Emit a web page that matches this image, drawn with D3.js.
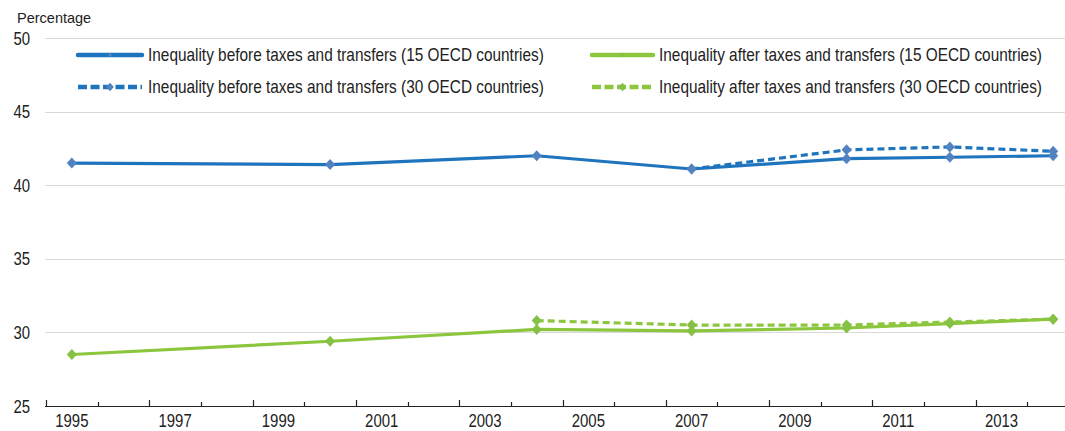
<!DOCTYPE html>
<html>
<head>
<meta charset="utf-8">
<script src="https://cdn.jsdelivr.net/npm/d3@7"></script>
<style>
  body { margin: 0; background: #fff; }
  svg text { font-family: "Liberation Sans", Arial, sans-serif; fill: #222; }
</style>
</head>
<body>
<svg id="graph" width="1065" height="431"></svg>
<script>
  var svg = d3.select("#graph");

  // categories on the x axis (one band per year)
  var years = d3.range(1995, 2015);
  var tickYears = [1995, 1997, 1999, 2001, 2003, 2005, 2007, 2009, 2011, 2013];
  var yTicks = [25, 30, 35, 40, 45, 50];

  // series values
  var beforeYears15 = [1995, 2000, 2004, 2007, 2010, 2012, 2014];
  var before15 = [41.5, 41.4, 42.0, 41.1, 41.8, 41.9, 42.0];
  var beforeYears30 = [2007, 2010, 2012, 2014];
  var before30 = [41.1, 42.4, 42.6, 42.3];
  var afterYears15 = [1995, 2000, 2004, 2007, 2010, 2012, 2014];
  var after15 = [28.5, 29.4, 30.2, 30.1, 30.3, 30.6, 30.9];
  var afterYears30 = [2004, 2007, 2010, 2012, 2014];
  var after30 = [30.8, 30.5, 30.5, 30.7, 30.9];

  var blue = "#1f74be", blueMark = "#5283c0";
  var green = "#8cc63f", greenMark = "#86c045";

  var series = [
    {name: "Inequality before taxes and transfers (15 OECD countries)", years: beforeYears15, values: before15, color: blue, mark: blueMark, dash: null},
    {name: "Inequality after taxes and transfers (15 OECD countries)", years: afterYears15, values: after15, color: green, mark: greenMark, dash: null},
    {name: "Inequality before taxes and transfers (30 OECD countries)", years: beforeYears30, values: before30, color: blue, mark: blueMark, dash: "7,4"},
    {name: "Inequality after taxes and transfers (30 OECD countries)", years: afterYears30, values: after30, color: green, mark: greenMark, dash: "7,4"}
  ];

  var plotLeft = 46, bandW = 51.65, plotTop = 38, plotBottom = 406;

  var x = d3.scaleBand().domain(years).range([plotLeft, plotLeft + bandW * years.length]);
  var y = d3.scaleLinear().domain([25, 50]).range([plotBottom, plotTop]);

  // no narrow font installed, so squeeze the regular one
  function narrowText(sel, px, py, s) {
    sel.attr("x", 0).attr("y", 0)
      .attr("transform", "translate(" + px + "," + py + ") scale(" + s + ",1)");
  }

  // diamond marker
  var diamond = {
    draw: function(ctx, size) {
      var r = Math.sqrt(size) / 2;
      ctx.moveTo(0, -r * 1.1);
      ctx.lineTo(r, 0);
      ctx.lineTo(0, r * 1.1);
      ctx.lineTo(-r, 0);
      ctx.closePath();
    }
  };

  // gridlines
  svg.append("g").selectAll("line").data(yTicks.slice(1)).enter().append("line")
    .attr("x1", plotLeft - 1).attr("x2", 1065)
    .attr("y1", function(d) { return Math.round(y(d)) + 0.5; })
    .attr("y2", function(d) { return Math.round(y(d)) + 0.5; })
    .attr("stroke", "#d9d9d9").attr("stroke-width", 1);

  // y labels
  svg.append("g").selectAll("text").data(yTicks).enter().append("text")
    .attr("text-anchor", "end")
    .style("font-size", "18px")
    .text(function(d) { return d; })
    .each(function(d) { narrowText(d3.select(this), 30, y(d) + 6.5, 0.83); });

  svg.append("text").text("Percentage")
    .attr("x", 17).attr("y", 23)
    .style("font-size", "14.5px");

  // x axis: labels under the band centres
  var xAxis = svg.append("g")
    .attr("transform", "translate(0," + plotBottom + ")")
    .call(d3.axisBottom(x).tickValues(tickYears).tickSize(0).tickPadding(8));
  xAxis.select(".domain").remove();
  xAxis.selectAll("text")
    .style("font-size", "18px")
    .style("font-family", "\"Liberation Sans\", Arial, sans-serif")
    .attr("fill", "#222")
    .attr("transform", "scale(0.83,1)");

  svg.append("line")
    .attr("x1", plotLeft - 1).attr("x2", 1065)
    .attr("y1", plotBottom + 0.5).attr("y2", plotBottom + 0.5)
    .attr("stroke", "#222").attr("stroke-width", 1.2);

  // ticks at band boundaries, taller before odd years
  svg.append("g").selectAll("line").data(years).enter().append("line")
    .attr("x1", function(d) { return Math.round(x(d)) + 0.5; })
    .attr("x2", function(d) { return Math.round(x(d)) + 0.5; })
    .attr("y1", plotBottom)
    .attr("y2", function(d) { return d % 2 == 1 ? plotBottom - 6 : plotBottom - 4; })
    .attr("stroke", "#222").attr("stroke-width", 1.2);

  // lines
  var line = d3.line()
    .x(function(d) { return x(d[0]) + x.bandwidth() / 2; })
    .y(function(d) { return y(d[1]); });

  series.forEach(function(s) {
    var pts = s.years.map(function(yr, i) { return [yr, s.values[i]]; });
    svg.append("path")
      .datum(pts)
      .attr("d", line)
      .attr("fill", "none")
      .attr("stroke", s.color)
      .attr("stroke-width", 3.2)
      .attr("stroke-dasharray", s.dash);
  });

  series.forEach(function(s) {
    var pts = s.years.map(function(yr, i) { return [yr, s.values[i]]; });
    svg.append("g").selectAll("path").data(pts).enter().append("path")
      .attr("d", d3.symbol().type(diamond).size(100))
      .attr("transform", function(d) { return "translate(" + (x(d[0]) + x.bandwidth() / 2) + "," + y(d[1]) + ")"; })
      .attr("fill", s.mark);
  });

  // legend
  var legX = [78, 592], legW = [64, 61], legY = [55, 87];
  series.forEach(function(s, i) {
    var col = i % 2, row = Math.floor(i / 2);
    var g = svg.append("g").attr("transform", "translate(" + legX[col] + "," + legY[row] + ")");
    g.append("line")
      .attr("x1", 0).attr("x2", legW[col]).attr("y1", 0).attr("y2", 0)
      .attr("stroke", s.color).attr("stroke-width", 4.5)
      .attr("stroke-linecap", s.dash ? "butt" : "round")
      .attr("stroke-dasharray", s.dash ? "9,3.5" : null);
    g.append("path")
      .attr("d", d3.symbol().type(diamond).size(s.dash ? 60 : 16))
      .attr("transform", "translate(" + (legW[col] / 2) + ",0)")
      .attr("fill", s.mark);
    g.append("text")
      .style("font-size", "18px")
      .text(s.name)
      .call(narrowText, legW[col] + 6, 6, 0.855);
  });
</script>
</body>
</html>
